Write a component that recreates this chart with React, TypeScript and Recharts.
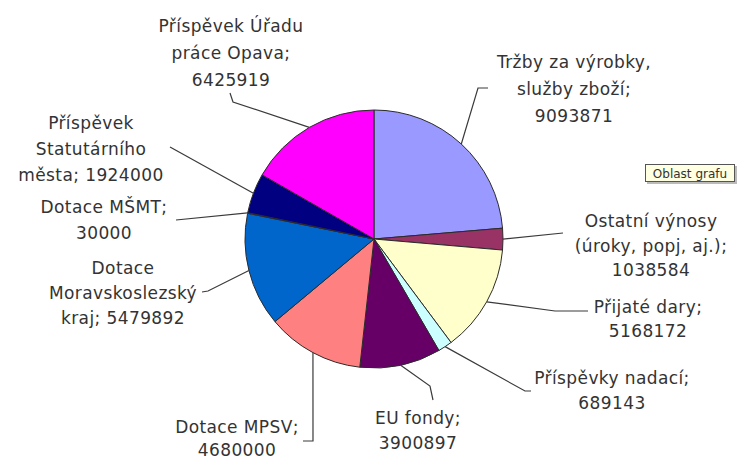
import React from "react";
import { PieChart, Pie, Cell } from "recharts";

// ---- data ----
const categories: string[] = [
  "Tržby za výrobky, služby zboží",
  "Ostatní výnosy (úroky, popj, aj.)",
  "Přijaté dary",
  "Příspěvky nadací",
  "EU fondy",
  "Dotace MPSV",
  "Dotace Moravskoslezský kraj",
  "Dotace MŠMT",
  "Příspěvek Statutárního města",
  "Příspěvek Úřadu práce Opava",
];

const values: number[] = [
  9093871, 1038584, 5168172, 689143, 3900897, 4680000, 5479892, 30000, 1924000, 6425919,
];

// label text, wrapped as in the reference
const labelLines: string[][] = [
  ["Tržby za výrobky,", "služby zboží;", "9093871"],
  ["Ostatní výnosy", "(úroky, popj, aj.);", "1038584"],
  ["Přijaté dary;", "5168172"],
  ["Příspěvky nadací;", "689143"],
  ["EU fondy;", "3900897"],
  ["Dotace MPSV;", "4680000"],
  ["Dotace", "Moravskoslezský", "kraj; 5479892"],
  ["Dotace MŠMT;", "30000"],
  ["Příspěvek", "Statutárního", "města; 1924000"],
  ["Příspěvek Úřadu", "práce Opava;", "6425919"],
];

// ---- styles / layout ----
const COLORS = [
  "#9999FF", "#993366", "#FFFFCC", "#CCFFFF", "#660066",
  "#FF8080", "#0066CC", "#CCCCFF", "#000080", "#FF00FF",
];

// label placement: text centre x, line centre ys, leader polyline points (after the pie-edge point)
const LABEL_LAYOUT: { x: number; ys: number[]; path: [number, number][] }[] = [
  { x: 574, ys: [62, 89, 116], path: [[478, 88], [488, 88]] },
  { x: 651, ys: [221, 246, 270], path: [[563, 233]] },
  { x: 648, ys: [307, 331], path: [[555, 311], [588, 311]] },
  { x: 612, ys: [378, 403], path: [[525, 391], [531, 391]] },
  { x: 418, ys: [418, 443], path: [[430, 386], [433, 400]] },
  { x: 237, ys: [427, 450], path: [[313, 441], [303, 441]] },
  { x: 123, ys: [268, 293, 318], path: [[208, 291], [202, 292]] },
  { x: 104, ys: [207, 233], path: [[176, 220]] },
  { x: 91, ys: [123, 149, 175], path: [[170, 147]] },
  { x: 231, ys: [26, 53, 80], path: [[233, 102], [230, 93]] },
];

const chartData = categories.map((name, i) => ({ name, value: values[i] }));

const RAD = Math.PI / 180;

const renderLabel = (props: any) => {
  const { cx, cy, midAngle, outerRadius, index } = props;
  const lay = LABEL_LAYOUT[index];
  const ex = cx + outerRadius * Math.cos(-midAngle * RAD);
  const ey = cy + outerRadius * Math.sin(-midAngle * RAD);
  const pts = [[ex, ey], ...lay.path].map((p) => `${p[0]},${p[1]}`).join(" ");
  return (
    <g key={`lbl-${index}`}>
      <polyline points={pts} fill="none" stroke="#3a3a3a" strokeWidth={1.2} />
      {labelLines[index].map((t, j) => (
        <text
          key={j}
          x={lay.x}
          y={lay.ys[j]}
          dy="0.36em"
          textAnchor="middle"
          fontFamily="'DejaVu Sans', Verdana, sans-serif"
          fontSize={17}
          letterSpacing={0.4}
          fill="#333"
        >
          {t}
        </text>
      ))}
    </g>
  );
};

export default function App() {
  return (
    <div style={{ position: "absolute", left: 0, top: 0, width: 742, height: 461, background: "#fff" }}>
      <PieChart width={742} height={461} margin={{ top: 0, right: 0, bottom: 0, left: 0 }}>
        <Pie
          data={chartData}
          dataKey="value"
          nameKey="name"
          cx={374}
          cy={239}
          outerRadius={129}
          startAngle={90}
          endAngle={-270}
          stroke="#2b2b2b"
          strokeWidth={1}
          label={renderLabel}
          labelLine={false}
          isAnimationActive={false}
        >
          {chartData.map((_, i) => (
            <Cell key={i} fill={COLORS[i]} />
          ))}
        </Pie>
      </PieChart>
      <div
        style={{
          position: "absolute",
          left: 645,
          top: 164,
          width: 90,
          height: 18,
          background: "#FFFFE1",
          border: "1px solid #555",
          boxShadow: "2px 2px 0 #bbb",
          fontFamily: "'DejaVu Sans', Tahoma, sans-serif",
          fontSize: 12,
          lineHeight: "18px",
          textAlign: "center",
          color: "#333",
          boxSizing: "border-box",
        }}
      >
        Oblast grafu
      </div>
    </div>
  );
}
